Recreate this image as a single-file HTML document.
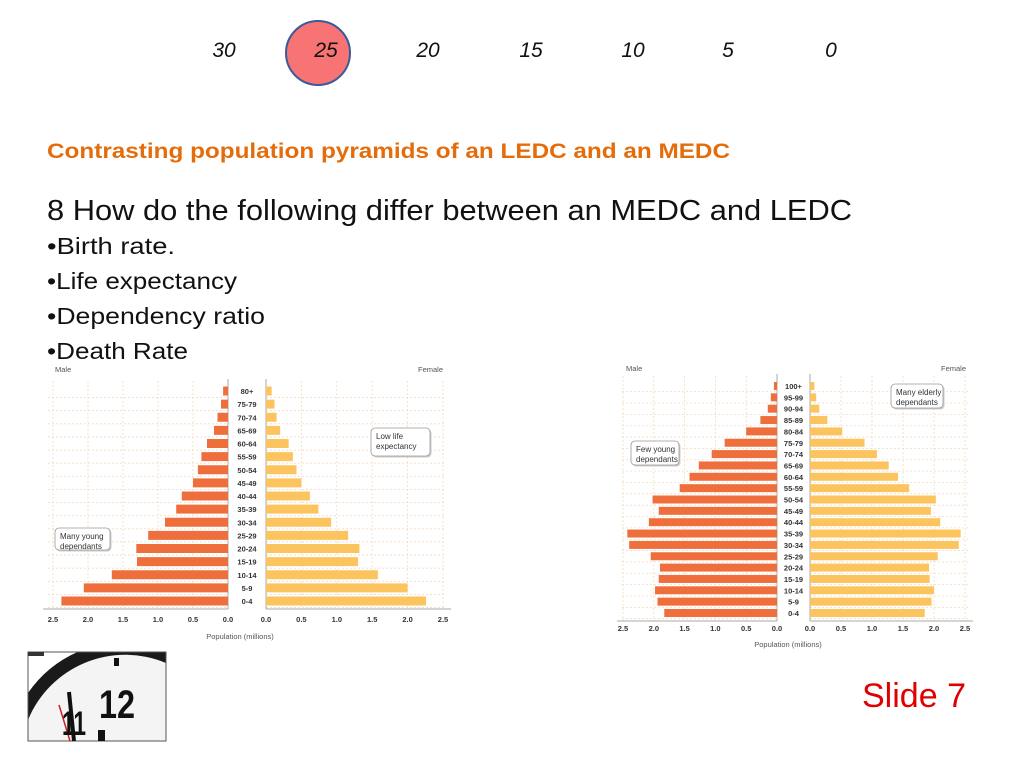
<!DOCTYPE html>
<html><head><meta charset="utf-8"><style>
html,body{margin:0;padding:0;background:#fff;width:1024px;height:768px;overflow:hidden}
svg{display:block}
text{font-family:"Liberation Sans",sans-serif}
</style></head><body>
<svg id="s" width="1024" height="768" viewBox="0 0 1024 768" xmlns="http://www.w3.org/2000/svg">
<rect width="1024" height="768" fill="#fff"/>
<circle cx="318" cy="53" r="32" fill="#f87474" stroke="#3a5a9a" stroke-width="2"/>
<g font-size="21" font-style="italic" fill="#111" text-anchor="middle">
<text x="224" y="57">30</text><text x="326" y="57">25</text><text x="428" y="57">20</text><text x="531" y="57">15</text><text x="633" y="57">10</text><text x="728" y="57">5</text><text x="831" y="57">0</text>
</g>
<text x="47" y="158" font-size="21" font-weight="bold" fill="#e46c0a" textLength="683" lengthAdjust="spacingAndGlyphs">Contrasting population pyramids of an LEDC and an MEDC</text>
<text x="47" y="220" font-size="29" fill="#111" textLength="805" lengthAdjust="spacingAndGlyphs">8 How do the following differ between an MEDC and LEDC</text>
<g font-size="23" fill="#111">
<text x="47" y="254" textLength="128" lengthAdjust="spacingAndGlyphs">•Birth rate.</text>
<text x="47" y="289" textLength="190" lengthAdjust="spacingAndGlyphs">•Life expectancy</text>
<text x="47" y="324" textLength="218" lengthAdjust="spacingAndGlyphs">•Dependency ratio</text>
<text x="47" y="359" textLength="141" lengthAdjust="spacingAndGlyphs">•Death Rate</text>
</g>
<text x="966" y="707" font-size="34" fill="#e00000" text-anchor="end" textLength="104" lengthAdjust="spacingAndGlyphs">Slide 7</text>
<!-- clock -->
<g>
<rect x="28" y="652" width="138" height="89" fill="#fff"/>
<path d="M28,741 L28,693 A118 118 0 0 1 77.5,652 L166,652 L166,741 Z" fill="#1a1a1a"/>
<path d="M28,741 L28,720 A105 105 0 0 1 166,663 L166,741 Z" fill="#f4f4f4"/>
<rect x="28" y="652" width="138" height="89" fill="none" stroke="#555" stroke-width="1"/>
<rect x="114" y="658" width="5" height="8" fill="#111"/>
<rect x="98" y="730" width="7" height="11" fill="#111"/>
<line x1="69" y1="692" x2="74" y2="741" stroke="#111" stroke-width="4"/>
<line x1="59" y1="705" x2="70" y2="741" stroke="#d02020" stroke-width="1.5"/>
<text x="99" y="718" font-size="40" font-weight="bold" fill="#111" textLength="36" lengthAdjust="spacingAndGlyphs">12</text>
<text x="62" y="735" font-size="34" font-weight="bold" fill="#111" textLength="24" lengthAdjust="spacingAndGlyphs">11</text>
<rect x="28" y="652" width="16" height="4" fill="#333"/>
</g>
<g id="charts"></g>
</svg>
<script>
const NS="http://www.w3.org/2000/svg";
const g=document.getElementById('charts');
function el(t,a,txt){const e=document.createElementNS(NS,t);for(const k in a)e.setAttribute(k,a[k]);if(txt!==undefined)e.textContent=txt;g.appendChild(e);return e;}
function chart(o){
 const {m0,mEnd,f0,fEnd,yTop,yBot,labels,male,female,tickY,popY,popX,sexY,maleX,femX,gridL,gridR,bh}=o;
 const n=labels.length,p=(yBot-yTop)/(n-1);
 const mu=(m0-mEnd)/2.5,fu=(fEnd-f0)/2.5;
 for(let i=0;i<=5;i++){
  el('line',{x1:m0-i*mu*0.5,y1:yTop-10,x2:m0-i*mu*0.5,y2:yBot+8,stroke:'#f3dcc0','stroke-width':0.8,'stroke-dasharray':'2,2'});
  el('line',{x1:f0+i*fu*0.5,y1:yTop-10,x2:f0+i*fu*0.5,y2:yBot+8,stroke:'#f3dcc0','stroke-width':0.8,'stroke-dasharray':'2,2'});
 }
 for(let i=0;i<n;i++){const y=yTop+i*p+p/2;
  el('line',{x1:gridL,y1:y,x2:m0,y2:y,stroke:'#f3dcc0','stroke-width':0.8,'stroke-dasharray':'2,2'});
  el('line',{x1:f0,y1:y,x2:gridR,y2:y,stroke:'#f3dcc0','stroke-width':0.8,'stroke-dasharray':'2,2'});
 }
 el('line',{x1:m0,y1:yTop-12,x2:m0,y2:yBot+8,stroke:'#aaa','stroke-width':1});
 el('line',{x1:f0,y1:yTop-12,x2:f0,y2:yBot+8,stroke:'#aaa','stroke-width':1});
 el('line',{x1:gridL-5,y1:yBot+8,x2:m0,y2:yBot+8,stroke:'#aaa','stroke-width':1});
 el('line',{x1:f0,y1:yBot+8,x2:gridR+5,y2:yBot+8,stroke:'#aaa','stroke-width':1});
 for(let i=0;i<n;i++){const y=yTop+i*p;
  el('rect',{x:m0-male[i]*mu,y:y-bh/2,width:male[i]*mu,height:bh,fill:'#ef6f3c'});
  el('rect',{x:f0,y:y-bh/2,width:female[i]*fu,height:bh,fill:'#fcc45e'});
  el('text',{x:(m0+f0)/2,y:y+3,'font-size':7.5,'font-weight':'bold','text-anchor':'middle',fill:'#333'},labels[i]);
 }
 const tl=['2.5','2.0','1.5','1.0','0.5','0.0'];
 for(let i=0;i<6;i++){
  el('text',{x:mEnd+i*mu*0.5,y:tickY,'font-size':7.5,'font-weight':'bold','text-anchor':'middle',fill:'#333'},tl[i]);
  el('text',{x:f0+i*fu*0.5,y:tickY,'font-size':7.5,'font-weight':'bold','text-anchor':'middle',fill:'#333'},tl[5-i]);
 }
 el('text',{x:popX,y:popY,'font-size':7.5,'text-anchor':'middle',fill:'#555'},'Population (millions)');
 el('text',{x:maleX,y:sexY,'font-size':7.5,fill:'#555'},'Male');
 el('text',{x:femX,y:sexY,'font-size':7.5,'text-anchor':'end',fill:'#555'},'Female');
}
function box(x,y,w,h,lines){
 el('rect',{x:x+1.5,y:y+1.5,width:w,height:h,rx:4,fill:'#ccc'});
 el('rect',{x:x,y:y,width:w,height:h,rx:4,fill:'#fff',stroke:'#999','stroke-width':0.8});
 lines.forEach((l,i)=>el('text',{x:x+5,y:y+11+i*10,'font-size':8,fill:'#333'},l));
}
chart({m0:228,mEnd:53,f0:266,fEnd:443,yTop:391,yBot:601,bh:9,tickY:622,popY:639,popX:240,sexY:372,maleX:55,femX:443,gridL:48,gridR:446,
 labels:['80+','75-79','70-74','65-69','60-64','55-59','50-54','45-49','40-44','35-39','30-34','25-29','20-24','15-19','10-14','5-9','0-4'],
 male:[0.07,0.1,0.15,0.2,0.3,0.38,0.43,0.5,0.66,0.74,0.9,1.14,1.31,1.3,1.66,2.06,2.38],
 female:[0.08,0.12,0.15,0.2,0.32,0.38,0.43,0.5,0.62,0.74,0.92,1.16,1.32,1.3,1.58,2.0,2.26]});
box(55,528,55,22,['Many young','dependants']);
box(371,428,59,28,['Low life','expectancy']);
chart({m0:777,mEnd:623,f0:810,fEnd:965,yTop:386,yBot:613,bh:8,tickY:631,popY:647,popX:788,sexY:371,maleX:626,femX:966,gridL:622,gridR:968,
 labels:['100+','95-99','90-94','85-89','80-84','75-79','70-74','65-69','60-64','55-59','50-54','45-49','40-44','35-39','30-34','25-29','20-24','15-19','10-14','5-9','0-4'],
 male:[0.05,0.1,0.15,0.27,0.5,0.85,1.06,1.27,1.42,1.58,2.02,1.92,2.08,2.43,2.4,2.05,1.9,1.92,1.98,1.94,1.83],
 female:[0.07,0.1,0.15,0.28,0.52,0.88,1.08,1.27,1.42,1.6,2.03,1.95,2.1,2.43,2.4,2.06,1.92,1.93,2.0,1.96,1.85]});
box(631,441,48,24,['Few young','dependants']);
box(891,384,52,24,['Many elderly','dependants']);
</script>
</body></html>
